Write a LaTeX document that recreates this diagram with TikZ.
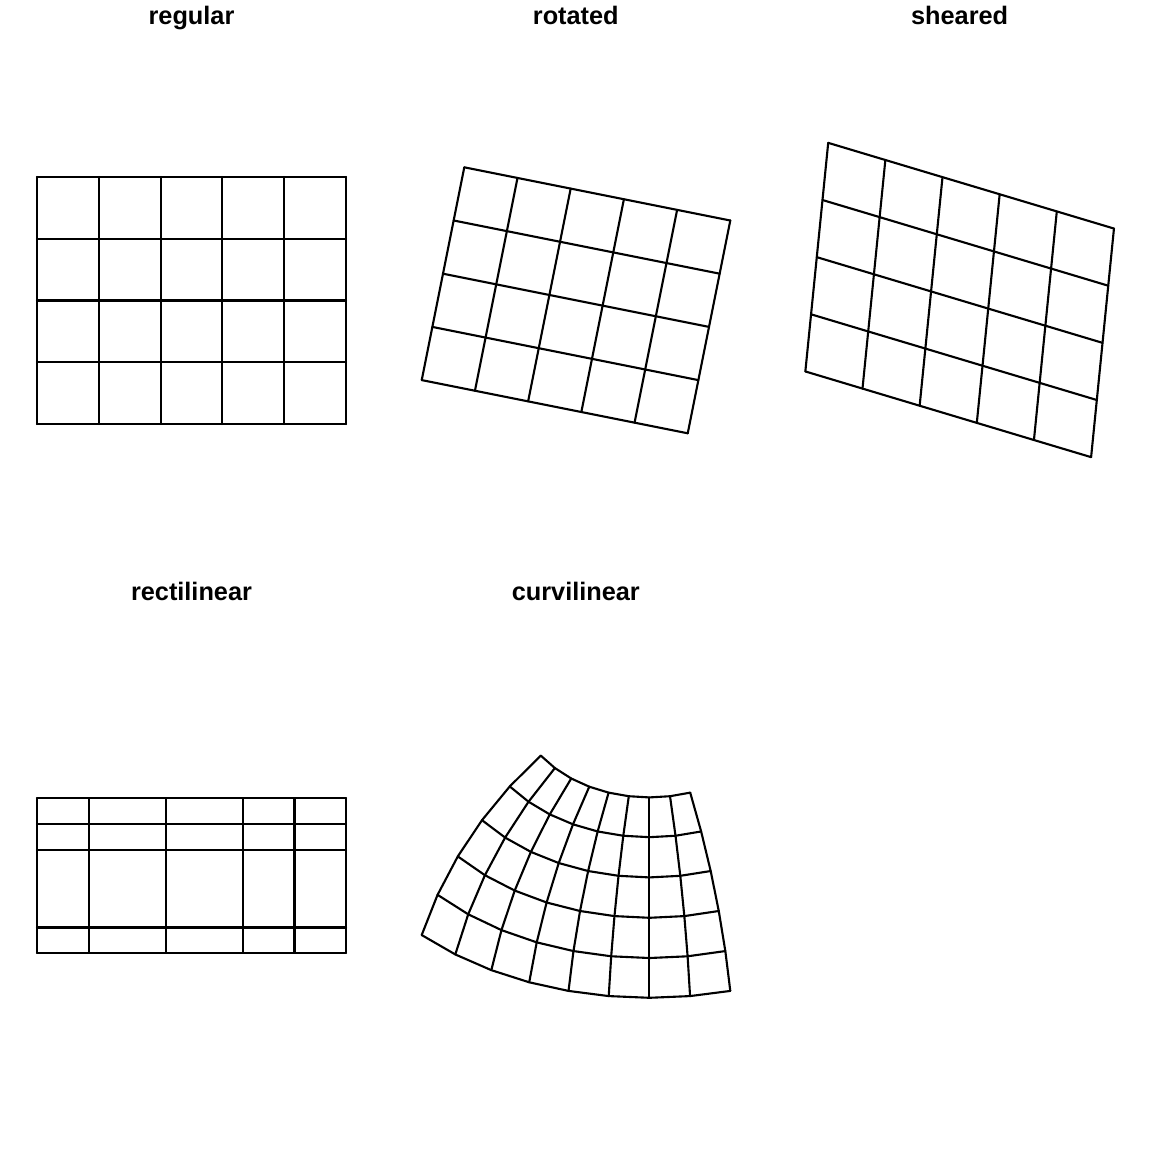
\documentclass[tikz,border=0pt]{standalone}
\usepackage{fontspec}
\setmainfont{Liberation Sans}
\tikzset{
  % For the panel titles.
  panel title/.style={
    font=\fontsize{18}{21}\selectfont\bfseries,
    anchor=base,
    inner sep=0pt},
%
  % For the cell borders.
  cell line/.style={
    line width=1.5pt,
    line join=round,
    line cap=round},
%
  % Lambert azimuthal equal-area projection, centred at 70W 35N,
  % scaled to pixels.
  declare function={
    laeak(\lon,\lat)=sqrt(2/(1+sin(35)*sin(\lat)+cos(35)*cos(\lat)*cos(\lon+70)));
    laeax(\lon,\lat)=649.4+231.45*laeak(\lon,\lat)*cos(\lat)*sin(\lon+70);
    laeay(\lon,\lat)=897.6-231.45*laeak(\lon,\lat)*(cos(35)*sin(\lat)-sin(35)*cos(\lat)*cos(\lon+70));
  },
}

\begin{document}
\begin{tikzpicture}[x=0.25mm,y=-0.25mm]
  \useasboundingbox (0,0) rectangle (1152,1152);

  \node[panel title] (regular) at (191.5,24.8) {regular};
  \node[panel title] (rotated) at (575.8,24.8) {rotated};
  \node[panel title] (sheared) at (959.6,24.8) {sheared};
  \node[panel title] (rectilinear) at (191.5,600.8) {rectilinear};
  \node[panel title] (curvilinear) at (575.8,600.8) {curvilinear};

  % regular
  \foreach \i in {0,...,5}
    \foreach \j in {0,...,4}
      \coordinate (g-\i-\j) at ({37+61.8*\i},{176.9+61.8*\j});
  \foreach \i in {0,...,5}
    \draw[cell line] (g-\i-0) -- (g-\i-4);
  \foreach \j in {0,...,4}
    \draw[cell line] (g-0-\j) -- (g-5-\j);

  % rotated
  \foreach \i in {0,...,5}
    \foreach \j in {0,...,4}
      \coordinate (r-\i-\j) at ({464.3+53.2*\i-10.64*\j},{167.3+10.64*\i+53.2*\j});
  \foreach \i in {0,...,5}
    \draw[cell line] (r-\i-0) -- (r-\i-4);
  \foreach \j in {0,...,4}
    \draw[cell line] (r-0-\j) -- (r-5-\j);

  % sheared
  \foreach \i in {0,...,5}
    \foreach \j in {0,...,4}
      \coordinate (s-\i-\j) at ({828.2+57.15*\i-5.715*\j},{142.85+17.14*\i+57.15*\j});
  \foreach \i in {0,...,5}
    \draw[cell line] (s-\i-0) -- (s-\i-4);
  \foreach \j in {0,...,4}
    \draw[cell line] (s-0-\j) -- (s-5-\j);

  % rectilinear
  \foreach \x [count=\i from 0] in {37,89,166,243,294.5,346}
    \foreach \y [count=\j from 0] in {798.25,824,850,927.5,952.75}
      \coordinate (l-\i-\j) at (\x,\y);
  \foreach \i in {0,...,5}
    \draw[cell line] (l-\i-0) -- (l-\i-4);
  \foreach \j in {0,...,4}
    \draw[cell line] (l-0-\j) -- (l-5-\j);

  % curvilinear
  \foreach \i in {0,...,8}
    \foreach \j in {0,...,5}
      \coordinate (c-\i-\j) at ({laeax(-130+10*\i,10+10*\j)},{laeay(-130+10*\i,10+10*\j)});
  \foreach \i in {0,...,8}
    \draw[cell line] (c-\i-0) \foreach \j in {1,...,5} { -- (c-\i-\j) };
  \foreach \j in {0,...,5}
    \draw[cell line] (c-0-\j) \foreach \i in {1,...,8} { -- (c-\i-\j) };
\end{tikzpicture}
\end{document}
